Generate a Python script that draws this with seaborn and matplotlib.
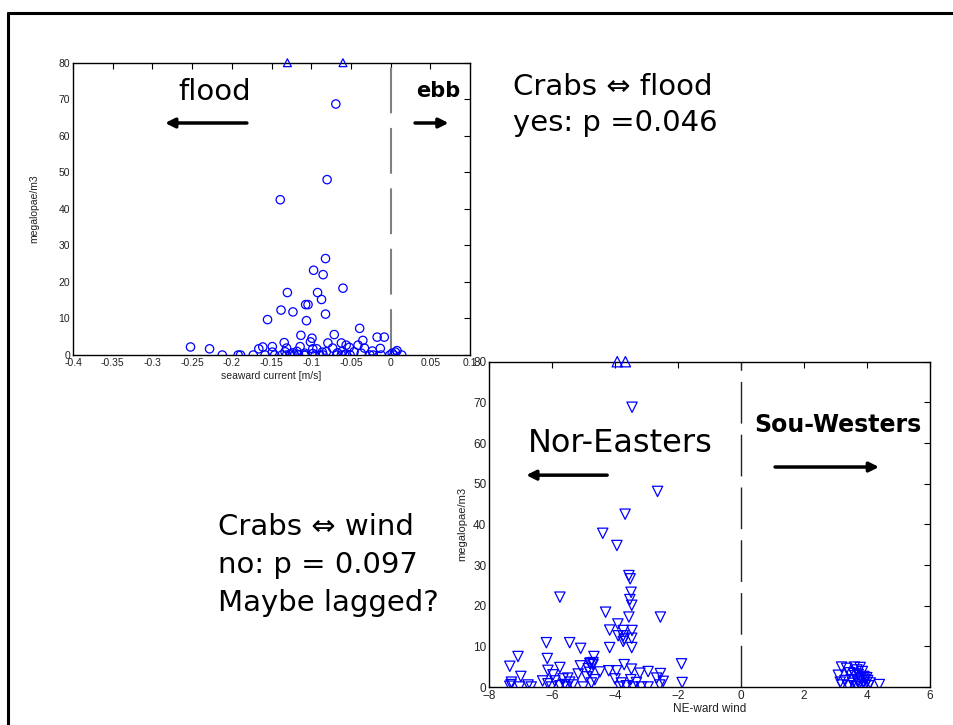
import numpy as np
import pandas as pd
import matplotlib
matplotlib.use("Agg")
import matplotlib.pyplot as plt
from matplotlib.lines import Line2D
import seaborn as sns

# ---- data: crabs vs seaward current ----
current_x = [-0.069, -0.080, -0.139, -0.082, -0.097, -0.085, -0.060, -0.130, -0.092, -0.087,
             -0.138, -0.123, -0.107, -0.104, -0.082, -0.155, -0.106, -0.039, -0.113, -0.071,
             -0.017, -0.008, -0.099, -0.101, -0.035, -0.134, -0.079, -0.062, -0.056, -0.041,
             -0.252, -0.228, -0.161, -0.149, -0.166, -0.131, -0.114, -0.098, -0.093, -0.073,
             -0.052, -0.033, -0.013, 0.008, -0.023,
             -0.212, -0.192, -0.189, -0.173, -0.158, -0.146, -0.137, -0.131, -0.126, -0.121,
             -0.116, -0.109, -0.107, -0.095, -0.089, -0.085, -0.068, -0.062, -0.058, -0.051,
             -0.026, -0.022, -0.012, -0.001, 0.004, 0.014,
             -0.149, -0.133, -0.123, -0.118, -0.108, -0.086, -0.081, -0.067, -0.061, -0.046,
             -0.037, 0.002, 0.006, -0.126, -0.098, -0.056]
current_crabs = [68.7, 48.0, 42.5, 26.4, 23.2, 22.0, 18.3, 17.1, 17.1, 15.2,
                 12.3, 11.8, 13.8, 13.8, 11.2, 9.7, 9.4, 7.3, 5.4, 5.6,
                 4.9, 4.9, 4.6, 3.6, 4.0, 3.4, 3.3, 3.3, 2.7, 2.7,
                 2.2, 1.7, 2.2, 2.3, 1.7, 1.9, 2.3, 1.7, 1.7, 1.9,
                 2.1, 1.9, 1.8, 1.2, 1.1,
                 0, 0, 0, 0, 0, 0, 0, 0, 0, 0,
                 0, 0, 0, 0, 0, 0, 0, 0, 0, 0,
                 0, 0, 0, 0, 0, 0,
                 0.8, 0.9, 0.6, 1.0, 0.5, 0.8, 0.9, 0.6, 1.0, 0.9,
                 0.5, 0.5, 0.8, 0.3, 0.4, 0.3]
current_offscale_x = [-0.130, -0.060]   # values above 80 (shown at top edge)

# ---- data: crabs vs NE-ward wind ----
wind_x = [-3.46, -2.65, -3.68, -4.39, -3.94, -3.56, -3.52, -3.49, -3.53, -3.47,
          -5.75, -4.30, -3.56, -2.56, -3.91, -4.17, -3.74, -3.46, -3.90, -3.74,
          -3.71, -3.47, -3.74, -6.18, -5.44, -4.17, -3.47, -5.09, -7.08, -6.15,
          -4.67, -1.89, -7.34, -5.75, -5.10, -4.78, -4.70, -3.71, -3.48, -6.99,
          -6.13, -5.97, -5.17, -4.48, -4.20, -3.95, -3.21, -2.95, -2.56, -2.68,
          -1.87,
          -7.34, -7.29, -7.03, -6.76, -6.66, -6.13, -6.02, -5.91, -5.75, -5.65,
          -5.54, -5.44, -5.33, -5.01, -4.75, -4.64, -3.85, -3.80, -3.64, -3.43,
          -3.32, -3.16, -2.95, -2.58, -2.47, -5.60, -5.50, -4.90, -4.80, -4.00,
          -3.50, -6.30, -7.30, -4.85, -4.70, -4.80,
          3.19, 3.09, 3.15, 3.20, 3.35, 3.45, 3.50, 3.55, 3.60, 3.62,
          3.65, 3.68, 3.70, 3.72, 3.75, 3.78, 3.80, 3.82, 3.85, 3.88,
          3.90, 3.95, 3.99, 4.02, 4.05, 4.10, 4.39, 3.40, 3.30, 3.58,
          3.70, 3.93]
wind_crabs = [68.8, 48.1, 42.5, 37.8, 34.8, 27.4, 26.6, 23.3, 21.5, 20.1,
              22.1, 18.4, 17.2, 17.2, 15.5, 14.0, 13.9, 13.9, 12.6, 12.6,
              11.8, 12.0, 11.2, 10.9, 10.9, 9.7, 9.7, 9.5, 7.5, 7.0,
              7.5, 5.7, 5.1, 4.8, 5.2, 5.9, 5.5, 5.5, 4.4, 2.6,
              4.1, 3.0, 3.2, 3.7, 4.0, 4.0, 3.4, 3.8, 3.3, 2.2,
              1.1,
              0.2, 1.2, 0.0, 0.5, 0.0, 0.8, 0.0, 1.5, 0.3, 2.0,
              0.0, 1.2, 0.5, 0.0, 1.0, 1.8, 0.0, 1.0, 0.3, 0.0,
              1.1, 0.0, 0.0, 0.5, 1.4, 0.6, 2.2, 2.5, 3.6, 2.0,
              1.8, 1.5, 0.6, 4.5, 6.0, 5.8,
              4.9, 2.9, 1.2, 0.5, 4.6, 3.5, 1.8, 0.9, 4.9, 2.8,
              0.2, 4.2, 1.5, 3.1, 0.7, 4.8, 2.2, 0.1, 3.8, 1.2,
              2.6, 0.5, 2.3, 1.6, 0.3, 1.0, 0.6, 0.3, 1.6, 3.3,
              0.0, 1.9]
wind_offscale_x = [-3.93, -3.67]   # values above 80 (shown at top edge)

current_ticks = [-0.4, -0.35, -0.3, -0.25, -0.2, -0.15, -0.1, -0.05, 0, 0.05, 0.1]
current_ticklabels = ["-0.4", "-0.35", "-0.3", "-0.25", "-0.2", "-0.15", "-0.1", "-0.05", "0", "0.05", "0.1"]
wind_ticks = [-8, -6, -4, -2, 0, 2, 4, 6]
crab_ticks = [0, 10, 20, 30, 40, 50, 60, 70, 80]

df_cur = pd.DataFrame({"current": current_x, "crabs": current_crabs})
df_wind = pd.DataFrame({"wind": wind_x, "crabs": wind_crabs})

sns.set_style("white")
plt.rcParams["font.family"] = ["DejaVu Sans"]
plt.rcParams["text.color"] = "black"
tickfont = ["Liberation Sans", "DejaVu Sans"]

fig = plt.figure(figsize=(9.54, 7.25), dpi=100)

blue = "#0000ff"
ARW = dict(arrowstyle="-|>", lw=2.5, color="black", mutation_scale=14, shrinkA=0, shrinkB=0)

def style_axes(ax, fs):
    for sp in ax.spines.values():
        sp.set_color("black")
        sp.set_linewidth(1.0)
        sp.set_visible(True)
    ax.tick_params(direction="in", top=True, right=True, length=4, width=0.8,
                   labelsize=fs, colors="black", pad=2)
    for lab in ax.get_xticklabels() + ax.get_yticklabels():
        lab.set_family(tickfont)
        lab.set_color("#222222")

# ---- top-left axes ----
ax1 = fig.add_axes([0.0765, 0.5103, 0.4162, 0.4032])
sns.scatterplot(data=df_cur, x="current", y="crabs", ax=ax1, marker="o", s=36,
                facecolors="none", edgecolor=blue, linewidth=0.9, zorder=3)
ax1.scatter(current_offscale_x, [80] * len(current_offscale_x), marker="^", s=32,
            facecolors="none", edgecolors=blue, linewidths=0.9, clip_on=False, zorder=4)
ax1.set_xlim(-0.4, 0.1)
ax1.set_ylim(0, 80)
ax1.set_xticks(current_ticks)
ax1.set_xticklabels(current_ticklabels)
ax1.set_yticks(crab_ticks)
ax1.axvline(0, color="#808080", lw=1.5, dashes=(22, 7), zorder=2)
ax1.set_xlabel("seaward current [m/s]", fontsize=7.5, family=tickfont, color="#222222", labelpad=2)
ax1.set_ylabel("megalopae/m3", fontsize=7.5, family=tickfont, color="#222222", labelpad=14)
style_axes(ax1, 7.5)

ax1.text(-0.221, 72.0, "flood", fontsize=21, ha="center", va="center", color="black")
ax1.text(0.0597, 72.3, "ebb", fontsize=15, ha="center", va="center", fontweight="bold",
         color="black")
ax1.annotate("", xy=(-0.284, 63.5), xytext=(-0.181, 63.5), arrowprops=ARW)
ax1.annotate("", xy=(0.073, 63.5), xytext=(0.0307, 63.5), arrowprops=ARW)

# ---- bottom-right axes ----
ax2 = fig.add_axes([0.5126, 0.0524, 0.4623, 0.4487])
sns.scatterplot(data=df_wind, x="wind", y="crabs", ax=ax2, marker="v", s=55,
                facecolors="none", edgecolor=blue, linewidth=0.9, zorder=3)
ax2.scatter(wind_offscale_x, [80] * len(wind_offscale_x), marker="^", s=55,
            facecolors="none", edgecolors=blue, linewidths=0.9, clip_on=False, zorder=4)
ax2.set_xlim(-8, 6)
ax2.set_ylim(0, 80)
ax2.set_xticks(wind_ticks)
ax2.set_yticks(crab_ticks)
ax2.axvline(0, color="#222222", lw=1.0, dashes=(30, 8), zorder=2)
ax2.set_xlabel("NE-ward wind", fontsize=8.5, family=tickfont, color="#222222", labelpad=1)
ax2.set_ylabel("megalopae/m3", fontsize=8, family=tickfont, color="#222222", labelpad=4)
style_axes(ax2, 8.5)

ax2.text(-3.84, 60.0, "Nor-Easters", fontsize=23, ha="center", va="center", color="black")
ax2.text(3.08, 64.4, "Sou-Westers", fontsize=17, ha="center", va="center",
         fontweight="bold", color="black")
ax2.annotate("", xy=(-6.82, 52.1), xytext=(-4.25, 52.1), arrowprops=ARW)
ax2.annotate("", xy=(4.38, 54.1), xytext=(1.08, 54.1), arrowprops=ARW)

# ---- slide texts ----
def ftxt(xpx, ypx, s, fs=21):
    fig.text(xpx / 954, 1 - ypx / 725, s, fontsize=fs, ha="left", va="baseline", color="black")

ftxt(513, 95, "Crabs ⇔ flood")
ftxt(513, 131, "yes: p =0.046")
ftxt(218, 535, "Crabs ⇔ wind")
ftxt(218, 573, "no: p = 0.097")
ftxt(218, 611, "Maybe lagged?")

# ---- slide frame ----
fig.add_artist(Line2D([8 / 954, 8 / 954], [0, 1 - 13 / 725], color="black", lw=2.2,
                      transform=fig.transFigure))
fig.add_artist(Line2D([8 / 954, 1.0], [1 - 13 / 725, 1 - 13 / 725], color="black", lw=2.2,
                      transform=fig.transFigure))

fig.savefig("out.png", dpi=100)
